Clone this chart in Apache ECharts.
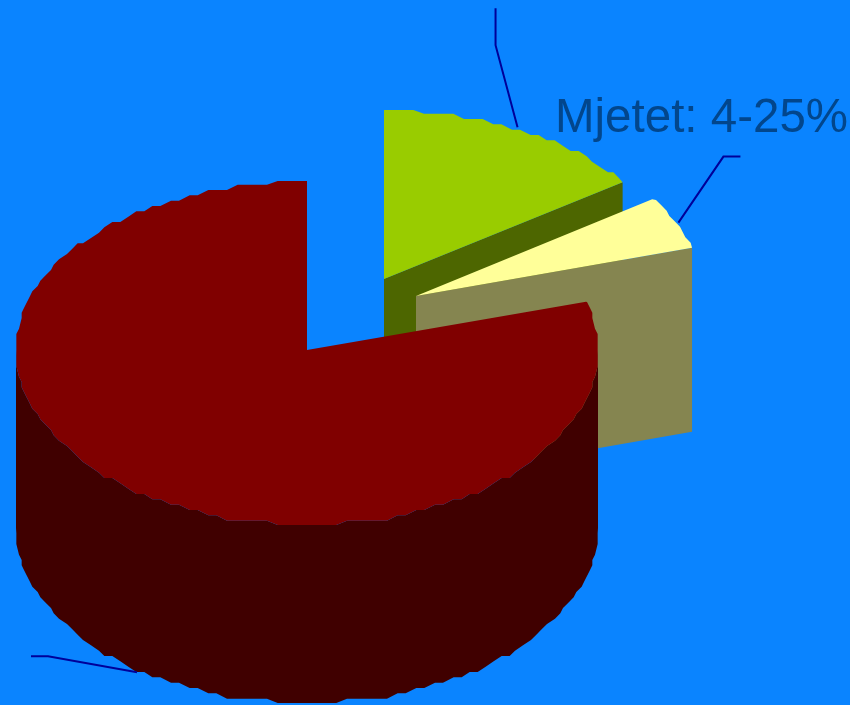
<!DOCTYPE html>
<html>
<head>
<meta charset="utf-8">
<style>html,body{margin:0;padding:0;background:#0a84ff}#c{width:850px;height:705px}</style>
<script src="https://cdn.jsdelivr.net/npm/echarts@6/dist/echarts.min.js"></script>
</head>
<body>
<div id="c"></div>
<script>
// Data: pie shares in percent, in drawing order
var sliceValues = [15.3, 5.1, 79.6];
var labelText = 'Mjetet: 4-25%';

// Pie presentation
var topColors = ['#99cc00', '#ffff99', '#800000'];
var sideColors = ['#4d6600', '#858550', '#400000'];
var apexX = [384, 416, 307];
var apexY = [279, 296, 350];
var depths = [184, 184, 178];
var radiusX = [291, 288, 291];
var radiusUp = 169, radiusDown = 175;
var leaderNudge = [[-1, -2], [3, 0], [4, 4]];
var leaderOffsets = [[[-22, -82], [-22, -119]], [[45, -66], [62, -66]], [[-89, -16], [-106, -16]]];
var STEP_X = 8 / 3, STEP_Y = 16 / 3, SAMPLE = 2;

var total = sliceValues.reduce(function (a, b) { return a + b; }, 0);

function rim(i, deg) {
  var t = deg * Math.PI / 180, c = Math.cos(t);
  return [apexX[i] + radiusX[i] * Math.sin(t), apexY[i] - (c > 0 ? radiusUp : radiusDown) * c];
}
function snapAxis(v, origin, step, limit) {
  var d = Math.round((v - origin) / step) * step;
  return origin + Math.max(-limit, Math.min(limit, d));
}
function snap(i, p) {
  return [
    snapAxis(p[0], apexX[i], STEP_X, radiusX[i]),
    p[1] < apexY[i] ? Math.max(apexY[i] - radiusUp, snapAxis(p[1], apexY[i], STEP_Y, 999))
                    : Math.min(apexY[i] + radiusDown, snapAxis(p[1], apexY[i], STEP_Y, 999))
  ];
}
function arc(i, a, b) {
  var pts = [rim(i, a)];
  var d = (Math.floor(a / SAMPLE) + 1) * SAMPLE;
  for (; d < b; d += SAMPLE) pts.push(snap(i, rim(i, d)));
  pts.push(rim(i, b));
  return pts;
}
function down(pts, h) { return pts.map(function (p) { return [p[0], p[1] + h]; }).reverse(); }

function renderItem(params, api) {
  var i = params.dataIndex, before = 0;
  for (var k = 0; k < i; k++) before += sliceValues[k];
  var a = before / total * 360, b = a + api.value(0) / total * 360;
  var apex = [apexX[i], apexY[i]], h = depths[i], kids = [];
  function poly(points, color) {
    kids.push({ type: 'polygon', silent: true, shape: { points: points }, style: { fill: color } });
  }
  // cut faces that look towards the viewer
  if (b > 0 && b < 180) {
    var e = [apex, rim(i, b)];
    poly(e.concat(down(e, h)), sideColors[i]);
  }
  // outer wall (front half only)
  var wa = Math.max(a, 90), wb = Math.min(b, 270);
  if (wb > wa) {
    var w = arc(i, wa, wb);
    poly(w.concat(down(w, h)), sideColors[i]);
  }
  // top face
  poly([apex].concat(arc(i, a, b)), topColors[i]);
  // leader line from the rim at the slice's mid angle
  var m = (a + b) / 2, s = rim(i, m);
  if (m > 90 && m < 270) s = [s[0], s[1] + h];
  s = [s[0] + leaderNudge[i][0], s[1] + leaderNudge[i][1]];
  var off = leaderOffsets[i];
  kids.push({
    type: 'polyline', silent: true,
    shape: { points: [s, [s[0] + off[0][0], s[1] + off[0][1]], [s[0] + off[1][0], s[1] + off[1][1]]] },
    style: { stroke: '#000099', lineWidth: 2, fill: null }
  });
  return { type: 'group', children: kids };
}

var chart = echarts.init(document.getElementById('c'), null, { renderer: 'canvas' });
chart.setOption({
  animation: false,
  backgroundColor: '#0a84ff',
  title: {
    text: labelText, left: 555, top: 95, padding: 0,
    textStyle: { color: '#02468c', fontFamily: 'Liberation Sans', fontSize: 47.5, fontWeight: 'normal' }
  },
  series: [{
    type: 'custom',
    coordinateSystem: 'none',
    renderItem: renderItem,
    data: sliceValues.map(function (v) { return [v]; })
  }]
});
</script>
</body>
</html>
